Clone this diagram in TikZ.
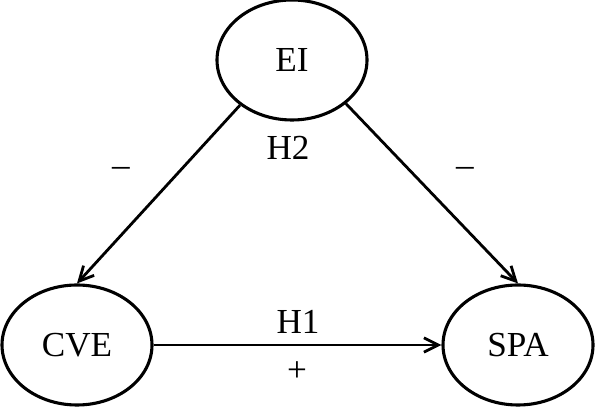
\documentclass[tikz,border=0pt]{standalone}
\usepackage{fontspec}
\setmainfont{Liberation Serif}
\usepackage{tikz}
\usetikzlibrary{shapes.geometric,arrows.meta,positioning}

\tikzset{
    construct/.style={ellipse, draw, line width=2.2pt, minimum width=3.75cm, minimum height=3cm, inner sep=0pt},
    path/.style={line width=2pt, -{Straight Barb[length=3.6mm, width=3.6mm, line width=2pt]}},
    lbl/.style={inner sep=0pt}
}

\begin{document}
\begin{tikzpicture}[font=\fontsize{25}{30}\selectfont]
    \useasboundingbox (0,0) rectangle (14.875,10.2);
    % Constructs
    \node[construct] (EI) at (7.3,8.7) {EI};
    \node[construct] (CVE) at (1.925,1.575) {CVE};
    \node[construct] (SPA) at (12.95,1.575) {SPA};
    % Paths
    \draw[path] (EI.221) -- (CVE.north);
    \draw[path] (EI.321) -- (SPA.north);
    \draw[path] (CVE.east) -- (SPA.west);
    % Labels
    \node[lbl] (h2) at (7.2,6.5) {H2};
    \node[lbl] (signleft) at (3.025,5.9) {–};
    \node[lbl] (signright) at (11.625,5.9) {–};
    \node[lbl] (h1) at (7.45,2.15) {H1};
    \node[lbl] (signbottom) at (7.425,0.9) {+};
\end{tikzpicture}
\end{document}
